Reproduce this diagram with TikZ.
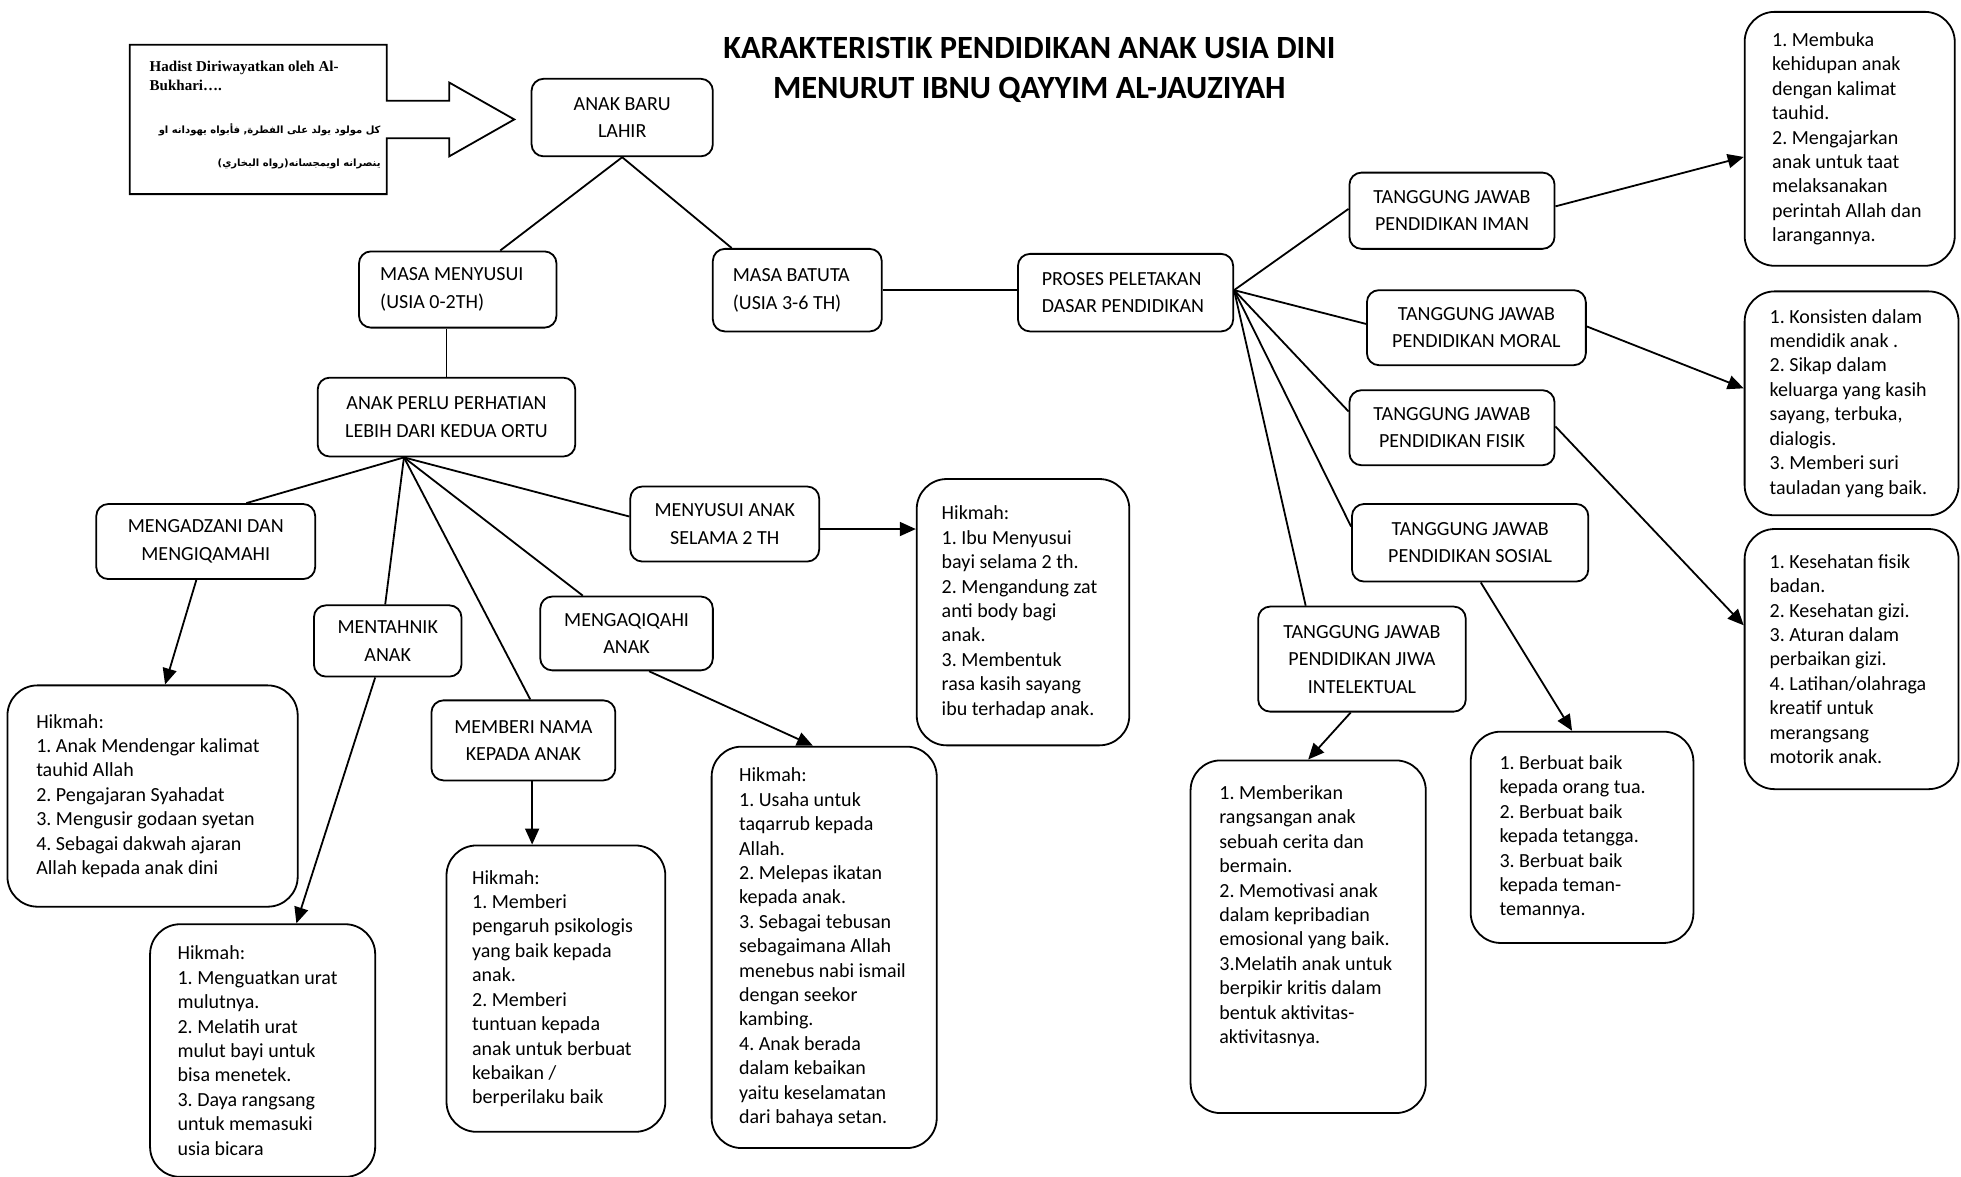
\documentclass[tikz,border=0pt]{standalone}
\usepackage{fontspec}
\setmainfont{Carlito}
\newfontfamily\hadistfont{Liberation Serif}
\newfontfamily\arabicfont[Script=Arabic]{DejaVu Sans}
\TeXXeTstate=1
\frenchspacing
\usetikzlibrary{arrows.meta, calc}
\tikzset{
    % label boxes
    lbl/.style={draw, rounded corners=6pt, align=center, inner sep=2pt, font=\fontsize{10}{13.75}\selectfont},
    lblleft/.style={lbl, align=flush left},
    % hikmah boxes
    hikmah/.style={draw, rounded corners=15pt, align=flush left, inner ysep=2pt, font=\fontsize{10}{12.2}\selectfont\frenchspacing},
    % connectors
    link/.style={line width=0.9pt},
    pointer/.style={line width=0.9pt, -{Triangle[length=8pt,width=7pt]}}
}

\begin{document}
\begin{tikzpicture}[x=0.625pt, y=-0.625pt, line width=0.9pt]
    \useasboundingbox (0,0) rectangle (1568,941);

    % Title
    \node[font=\fontsize{16.2}{20}\selectfont\bfseries, align=center] (title) at (823,56)
        {KARAKTERISTIK PENDIDIKAN ANAK USIA DINI\\MENURUT IBNU QAYYIM AL-JAUZIYAH};

    % Hadist callout
    \node[minimum width=127.5pt, minimum height=73.75pt, inner sep=0pt] (hadist) at (206.5,95.5) {};
    \draw (hadist.north west) -- (hadist.north east) -- ($(hadist.east)+(0,-15)$) -- ++(50,0) -- ++(0,-14.5)
        -- ($(hadist.east)+(102,0)$) -- ($(hadist.east)+(50,29.5)$) -- ++(0,-14.5)
        -- ($(hadist.east)+(0,15)$) -- (hadist.south east) -- (hadist.south west) -- cycle;
    \node[font=\hadistfont\bfseries\fontsize{7.5}{9.4}\selectfont, align=left, anchor=west, inner sep=0pt] (hadistTxt) at (119,60.5)
        {Hadist Diriwayatkan oleh Al-\\Bukhari….};
    \node[font=\arabicfont\bfseries\fontsize{5}{16.9}\selectfont, align=right, anchor=east, inner sep=0pt] (hadistAr) at (305,117)
        {\beginR كل مولود يولد على الفطرة, فأبواه يهودانه او\endR\\\beginR ينصرانه اويمجسانه(رواه البخاري)\endR};

    % Main branch
    \node[lbl, minimum width=90.6pt, minimum height=38.75pt] (lahir) at (497.5,94) {ANAK BARU\\LAHIR};
    \node[lblleft, text width=77.5pt, inner xsep=10.6pt, minimum height=38.1pt] (menyusui) at (366,231.5) {MASA MENYUSUI\\(USIA 0-2TH)};
    \node[lblleft, text width=64.4pt, inner xsep=10pt, minimum height=41.25pt] (batuta) at (637.5,232) {MASA BATUTA\\(USIA 3-6 TH)};
    \node[lbl, minimum width=128.75pt, minimum height=39.4pt] (perlu) at (357,333.5) {ANAK PERLU PERHATIAN\\LEBIH DARI KEDUA ORTU};
    \node[lblleft, text width=83.75pt, inner xsep=11.9pt, minimum height=38.75pt] (proses) at (900,234) {PROSES PELETAKAN\\DASAR PENDIDIKAN};

    % Masa menyusui branch
    \node[lbl, minimum width=109.4pt, minimum height=37.5pt] (adzan) at (164.5,433) {MENGADZANI DAN\\MENGIQAMAHI};
    \node[lbl, minimum width=73.75pt, minimum height=35.6pt] (tahnik) at (310,512.5) {MENTAHNIK\\ANAK};
    \node[lbl, minimum width=86.25pt, minimum height=36.9pt] (aqiqah) at (501,506.5) {MENGAQIQAHI\\ANAK};
    \node[lbl, minimum width=91.9pt, minimum height=40pt] (nama) at (418.5,592) {MEMBERI NAMA\\KEPADA ANAK};
    \node[lbl, minimum width=94.4pt, minimum height=37.5pt] (susuanak) at (579.5,419) {MENYUSUI ANAK\\SELAMA 2 TH};

    % Tanggung jawab branch
    \node[lbl, minimum width=102.5pt, minimum height=38.1pt] (iman) at (1161,168.5) {TANGGUNG JAWAB\\PENDIDIKAN IMAN};
    \node[lbl, minimum width=109.4pt, minimum height=37.5pt] (moral) at (1180.5,262) {TANGGUNG JAWAB\\PENDIDIKAN MORAL};
    \node[lbl, minimum width=102.5pt, minimum height=37.5pt] (fisik) at (1161,342) {TANGGUNG JAWAB\\PENDIDIKAN FISIK};
    \node[lbl, minimum width=118.1pt, minimum height=38.75pt] (sosial) at (1175.5,434) {TANGGUNG JAWAB\\PENDIDIKAN SOSIAL};
    \node[lbl, minimum width=103.75pt, minimum height=52.5pt] (jiwa) at (1089,527) {TANGGUNG JAWAB\\PENDIDIKAN JIWA\\INTELEKTUAL};

    % Hikmah boxes
    \node[hikmah, text width=116.25pt, inner xsep=14.4pt, minimum height=110.6pt] (hkAdzan) at (122,636.5)
        {Hikmah:\\1. Anak Mendengar kalimat\\tauhid Allah\\2. Pengajaran Syahadat\\3. Mengusir godaan syetan\\4. Sebagai dakwah ajaran\\Allah kepada anak dini};
    \node[hikmah, text width=85pt, inner xsep=13.75pt, minimum height=126.25pt] (hkTahnik) at (210,840)
        {Hikmah:\\1. Menguatkan urat\\mulutnya.\\2. Melatih urat\\mulut bayi untuk\\bisa menetek.\\3. Daya rangsang\\untuk memasuki\\usia bicara};
    \node[hikmah, text width=83.75pt, inner xsep=12.8pt, minimum height=143.1pt] (hkNama) at (444.5,790.5)
        {Hikmah:\\1. Memberi\\pengaruh psikologis\\yang baik kepada\\anak.\\2. Memberi\\tuntuan kepada\\anak untuk berbuat\\kebaikan /\\berperilaku baik};
    \node[hikmah, text width=85pt, inner xsep=13.75pt, minimum height=200.6pt] (hkAqiqah) at (659,757.5)
        {Hikmah:\\1. Usaha untuk\\taqarrub kepada\\Allah.\\2. Melepas ikatan\\kepada anak.\\3. Sebagai tebusan\\sebagaimana Allah\\menebus nabi ismail\\dengan seekor\\kambing.\\4. Anak berada\\dalam kebaikan\\yaitu keselamatan\\dari bahaya setan.};
    \node[hikmah, text width=81.25pt, inner xsep=12.5pt, minimum height=133.1pt] (hkSusu) at (818,489.5)
        {Hikmah:\\1. Ibu Menyusui\\bayi selama 2 th.\\2. Mengandung zat\\anti body bagi\\anak.\\3. Membentuk\\rasa kasih sayang\\ibu terhadap anak.};
    \node[hikmah, text width=88.75pt, inner xsep=14.4pt, minimum height=176.25pt] (hkJiwa) at (1046,749)
        {1. Memberikan\\rangsangan anak\\sebuah cerita dan\\bermain.\\2. Memotivasi anak\\dalam kepribadian\\emosional yang baik.\\3.Melatih anak untuk\\berpikir kritis dalam\\bentuk aktivitas-\\aktivitasnya.\\[10pt]\mbox{}};
    \node[hikmah, text width=82.5pt, inner xsep=14.4pt, minimum height=105.6pt] (hkSosial) at (1265,669.5)
        {1. Berbuat baik\\kepada orang tua.\\2. Berbuat baik\\kepada tetangga.\\3. Berbuat baik\\kepada teman-\\temannya.};
    \node[hikmah, text width=77.5pt, inner xsep=13.75pt, minimum height=126.9pt] (hkIman) at (1479,111)
        {1. Membuka\\kehidupan anak\\dengan kalimat\\tauhid.\\2. Mengajarkan\\anak untuk taat\\melaksanakan\\perintah Allah dan\\larangannya.};
    \node[hikmah, text width=81.9pt, inner xsep=12.5pt, minimum height=111.9pt] (hkMoral) at (1480.5,322.5)
        {1. Konsisten dalam\\mendidik anak .\\2. Sikap dalam\\keluarga yang kasih\\sayang, terbuka,\\dialogis.\\3. Memberi suri\\tauladan yang baik.};
    \node[hikmah, text width=81.9pt, inner xsep=12.5pt, minimum height=130pt] (hkFisik) at (1480.5,527)
        {1. Kesehatan fisik\\badan.\\2. Kesehatan gizi.\\3. Aturan dalam\\perbaikan gizi.\\4. Latihan/olahraga\\kreatif untuk\\merangsang\\motorik anak.};

    % Hubs and connector ends
    \coordinate (perluHub) at ($(perlu.south)+(-34,0)$);
    \coordinate (prosesHub) at ($(proses.east)+(0,-2)$);
    \coordinate (namaOut) at ($(nama.south)+(7,0)$);
    \coordinate (susuOut) at ($(susuanak.east)+(0,4)$);

    % Tree lines
    \draw[link] (lahir.south) -- ($(menyusui.north)+(34,0)$);
    \draw[link] (lahir.south) -- ($(batuta.north)+(-52.5,0)$);
    \draw[link] (perlu.north) -- (perlu.north |- menyusui.south);
    \draw[link] (batuta.east) -- (batuta.east -| proses.west);

    \draw[link] (perluHub) -- ($(adzan.north)+(32.5,0)$);
    \draw[link] (perluHub) -- ($(tahnik.north)+(-2,0)$);
    \draw[link] (perluHub) -- ($(nama.north)+(5.5,0)$);
    \draw[link] (perluHub) -- ($(aqiqah.north)+(-35,0)$);
    \draw[link] (perluHub) -- ($(susuanak.west)+(0,-6)$);

    \draw[link] (prosesHub) -- ($(iman.west)+(0,-1.5)$);
    \draw[link] (prosesHub) -- ($(moral.west)+(0,-3)$);
    \draw[link] (prosesHub) -- ($(fisik.west)+(0,-13)$);
    \draw[link] (prosesHub) -- ($(sosial.west)+(0,-13)$);
    \draw[link] (prosesHub) -- ($(jiwa.north)+(-45,0)$);

    % Arrows to hikmah
    \draw[pointer] ($(adzan.south)+(-7.5,0)$) -- ($(hkAdzan.north)+(10,0)$);
    \draw[pointer] ($(tahnik.south)+(-10,0)$) -- ($(hkTahnik.north)+(27,0)$);
    \draw[pointer] (namaOut) -- (namaOut |- hkNama.north);
    \draw[pointer] ($(aqiqah.south)+(18,0)$) -- ($(hkAqiqah.north)+(-9,0)$);
    \draw[pointer] (susuOut) -- (susuOut -| hkSusu.west);

    \draw[pointer] ($(iman.east)+(0,-3.5)$) -- ($(hkIman.west)+(0,14.5)$);
    \draw[pointer] ($(moral.east)+(0,-1)$) -- ($(hkMoral.west)+(0,-12)$);
    \draw[pointer] ($(fisik.east)+(0,-1)$) -- ($(hkFisik.west)+(0,-27)$);
    \draw[pointer] ($(sosial.south)+(8.5,0)$) -- ($(hkSosial.north)+(-8,0)$);
    \draw[pointer] ($(jiwa.south)+(-9,0)$) -- (hkJiwa.north);
\end{tikzpicture}
\end{document}
